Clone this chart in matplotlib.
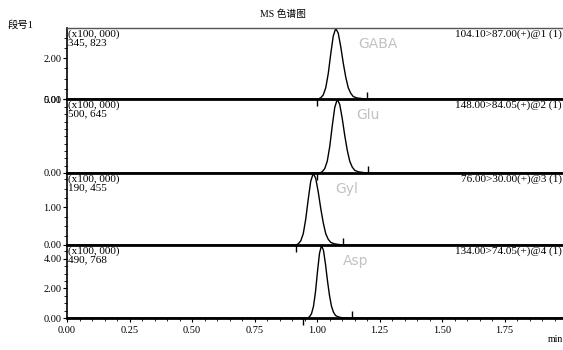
import matplotlib
matplotlib.use('Agg')
import matplotlib.pyplot as plt
from matplotlib.ticker import FixedLocator, MultipleLocator

plt.rcParams['font.family'] = ['Liberation Serif', 'Noto Sans CJK SC']

# chromatogram data (intensity x100,000)
gaba_t = [0.0, 1.005, 1.015, 1.025, 1.035, 1.045, 1.055, 1.065, 1.075, 1.085, 1.095,
          1.105, 1.115, 1.125, 1.135, 1.145, 1.16, 1.18, 1.20, 2.0]
gaba_y = [0, 0, 0.06, 0.20, 0.55, 1.24, 2.21, 3.08, 3.458, 3.22, 2.56,
          1.76, 1.07, 0.55, 0.28, 0.12, 0.05, 0.02, 0, 0]

glu_t = [0.0, 1.011, 1.021, 1.031, 1.041, 1.051, 1.061, 1.071, 1.081, 1.091, 1.101,
         1.111, 1.121, 1.131, 1.141, 1.151, 1.166, 1.186, 1.206, 2.0]
glu_y = [0, 0, 0.09, 0.30, 0.80, 1.80, 3.20, 4.46, 5.006, 4.66, 3.70,
         2.55, 1.55, 0.80, 0.40, 0.18, 0.08, 0.03, 0, 0]

gyl_t = [0.0, 0.915, 0.925, 0.935, 0.945, 0.955, 0.965, 0.975, 0.985, 0.995, 1.005,
         1.015, 1.025, 1.035, 1.045, 1.055, 1.07, 1.09, 1.11, 2.0]
gyl_y = [0, 0, 0.03, 0.11, 0.30, 0.69, 1.22, 1.70, 1.905, 1.77, 1.41,
         0.97, 0.59, 0.30, 0.15, 0.07, 0.03, 0.01, 0, 0]

asp_t = [0.0, 0.962, 0.970, 0.978, 0.986, 0.994, 1.002, 1.010, 1.018, 1.026, 1.034,
         1.042, 1.050, 1.058, 1.066, 1.074, 1.086, 1.10, 1.12, 2.0]
asp_y = [0, 0, 0.08, 0.29, 0.79, 1.77, 3.14, 4.37, 4.908, 4.56, 3.63,
         2.50, 1.52, 0.79, 0.39, 0.17, 0.07, 0.02, 0, 0]

names = ['GABA', 'Glu', 'Gyl', 'Asp']
maxima = [3.458, 5.006, 1.905, 4.908]
max_text = ['345, 823', '500, 645', '190, 455', '490, 768']
transitions = ['104.10>87.00(+)@1 (1)', '148.00>84.05(+)@2 (1)',
               '76.00>30.00(+)@3 (1)', '134.00>74.05(+)@4 (1)']
y_ticks = [[0, 2.0], [0, 5.01], [0, 1.0], [0, 2.0, 4.0]]
starts = [1.0, 1.0, 0.916, 0.944]
ends = [1.20, 1.204, 1.104, 1.14]
name_pos = [1.245, 1.205, 1.12, 1.155]
x_ticks = [0.0, 0.25, 0.5, 0.75, 1.0, 1.25, 1.5, 1.75]

series = [(gaba_t, gaba_y), (glu_t, glu_y), (gyl_t, gyl_y), (asp_t, asp_y)]

fig = plt.figure(figsize=(5.63, 3.5), dpi=100)
left = 67 / 563
tops = [28, 99, 173, 245]
bots = [99, 173, 245, 318]
xmax = (563 - 67) / 250.0

for i in range(4):
    b = 1 - bots[i] / 350
    h = (bots[i] - tops[i]) / 350
    ax = fig.add_axes([left, b, 1 - left, h])
    t, y = series[i]
    ax.plot(t, y, color='black', lw=1.0)
    # integration start / end marks
    ax.plot([starts[i]], [0], marker=3, color='black', ms=5, mew=1, clip_on=False, zorder=5)
    ax.plot([ends[i]], [0], marker=2, color='black', ms=5, mew=1, clip_on=False, zorder=5)
    ax.set_xlim(0, xmax)
    ax.set_ylim(0, maxima[i] * 1.005)
    ax.yaxis.set_major_locator(FixedLocator(y_ticks[i]))
    ax.yaxis.set_minor_locator(MultipleLocator(0.25 if maxima[i] < 3 else 0.5))
    ax.yaxis.set_major_formatter(plt.FuncFormatter(lambda v, p: '%.2f' % v))
    ax.tick_params(axis='y', labelsize=7.5, length=3, width=0.8, pad=1)
    ax.tick_params(axis='y', which='minor', length=2, width=0.6)
    ax.spines['right'].set_visible(False)
    ax.spines['bottom'].set_linewidth(2.0)
    ax.spines['left'].set_linewidth(1.2)
    ax.spines['top'].set_linewidth(1.0 if i == 0 else 0)
    ax.spines['top'].set_color('#555555')
    ax.text(0.003, 0.985, '(x100, 000)\n' + max_text[i], transform=ax.transAxes,
            ha='left', va='top', fontsize=8, linespacing=1.0)
    ax.text(0.997, 0.975, transitions[i], transform=ax.transAxes,
            ha='right', va='top', fontsize=8)
    ax.text(name_pos[i], 0.78, names[i], transform=ax.get_xaxis_transform(),
            ha='center', va='center', fontsize=10, color='#c2c2c2',
            family='DejaVu Sans')
    ax.patch.set_alpha(0)
    if i < 3:
        ax.tick_params(axis='x', which='both', bottom=False, labelbottom=False)
    else:
        ax.set_xticks(x_ticks)
        ax.set_xticklabels(['%.2f' % v for v in x_ticks])
        ax.xaxis.set_minor_locator(MultipleLocator(0.05))
        ax.tick_params(axis='x', labelsize=7.5, length=3, width=0.8, pad=3)
        ax.tick_params(axis='x', which='minor', length=2, width=0.6)

fig.text(283 / 563, 1 - 14 / 350, 'MS 色谱图', ha='center', va='center', fontsize=7)
fig.text(8 / 563, 1 - 25 / 350, '段号1', ha='left', va='center', fontsize=7.5)
fig.text(548 / 563, 1 - 339 / 350, 'min', ha='left', va='center', fontsize=7)

fig.savefig('out.png', dpi=100, facecolor='white')
